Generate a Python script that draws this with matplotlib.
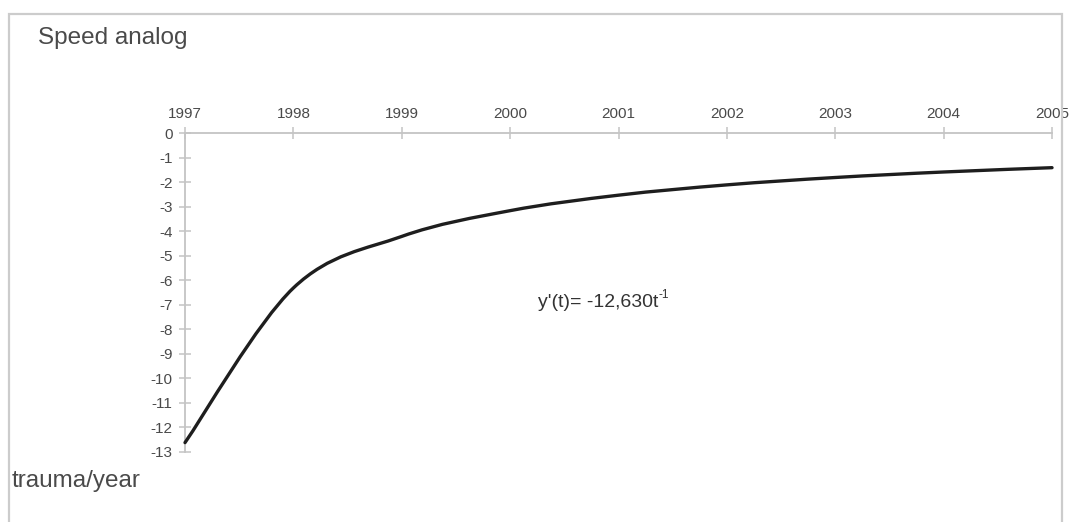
import numpy as np
import matplotlib
matplotlib.use("Agg")
import matplotlib.pyplot as plt
from matplotlib.path import Path
from matplotlib.patches import PathPatch, Rectangle

plt.rcParams['font.family'] = ['Liberation Sans', 'DejaVu Sans']

# yearly values of the speed analog (trauma/year)
years = [1997, 1998, 1999, 2000, 2001, 2002, 2003, 2004, 2005]
speed = [-12.63, -6.315, -4.21, -3.158, -2.526, -2.105, -1.804, -1.579, -1.403]
y_ticks = list(range(0, -14, -1))

AXIS_GREY = '#c4c4c4'
TEXT_GREY = '#4a4a4a'


def smooth_path(xs, ys):
    # smoothed line through the points (Catmull-Rom as cubic Bezier)
    pts = np.column_stack([xs, ys]).astype(float)
    ext = np.vstack([pts[0], pts, pts[-1]])
    verts = [pts[0]]
    codes = [Path.MOVETO]
    for i in range(1, len(ext) - 2):
        p0, p1, p2, p3 = ext[i - 1], ext[i], ext[i + 1], ext[i + 2]
        verts += [p1 + (p2 - p0) / 6, p2 - (p3 - p1) / 6, p2]
        codes += [Path.CURVE4] * 3
    return Path(verts, codes)


fig = plt.figure(figsize=(10.7, 5.22), dpi=100)
ax = fig.add_axes([0.1729, 0.1347, 0.9832 - 0.1729, 0.7446 - 0.1347])

ax.add_patch(PathPatch(smooth_path(years, speed), facecolor='none',
                       edgecolor='#1e1e1e', lw=2.4, clip_on=False,
                       capstyle='round', zorder=3))

ax.set_xlim(1997, 2005)
ax.set_ylim(-13, 0)
ax.set_xticks(years)
ax.set_yticks(y_ticks)
ax.set_yticklabels([str(v) for v in y_ticks])

ax.xaxis.tick_top()
for s in ['right', 'bottom']:
    ax.spines[s].set_visible(False)
for s in ['left', 'top']:
    ax.spines[s].set_color(AXIS_GREY)
    ax.spines[s].set_linewidth(1.3)
ax.tick_params(axis='x', direction='inout', length=8, width=1.1, color=AXIS_GREY,
               labelsize=11, labelcolor=TEXT_GREY, pad=5)
ax.tick_params(axis='y', direction='inout', length=8, width=1.1, color=AXIS_GREY,
               labelsize=11, labelcolor=TEXT_GREY, pad=5)
ax.patch.set_visible(False)

# equation of the curve
eq = ax.text(2000.26, -6.9, "y'(t)= -12,630t", fontsize=14, color='#333333',
             ha='left', va='center')
ax.annotate('-1', xy=(1.0, 0.95), xycoords=eq, fontsize=8.5, color='#333333',
            ha='left', va='center')

fig.text(38 / 1070, 1 - 38 / 522, 'Speed analog', fontsize=17.5, color=TEXT_GREY,
         ha='left', va='center')
fig.text(12 / 1070, 1 - 481 / 522, 'trauma/year', fontsize=17.5, color=TEXT_GREY,
         ha='left', va='center')

# frame around the chart
fig.patches.append(Rectangle((9 / 1070, -0.05), (1062 - 9) / 1070, 1.05 - 14 / 522,
                             transform=fig.transFigure, fill=False,
                             edgecolor='#cccccc', lw=1.6, zorder=0))

fig.savefig('out.png', dpi=100)
